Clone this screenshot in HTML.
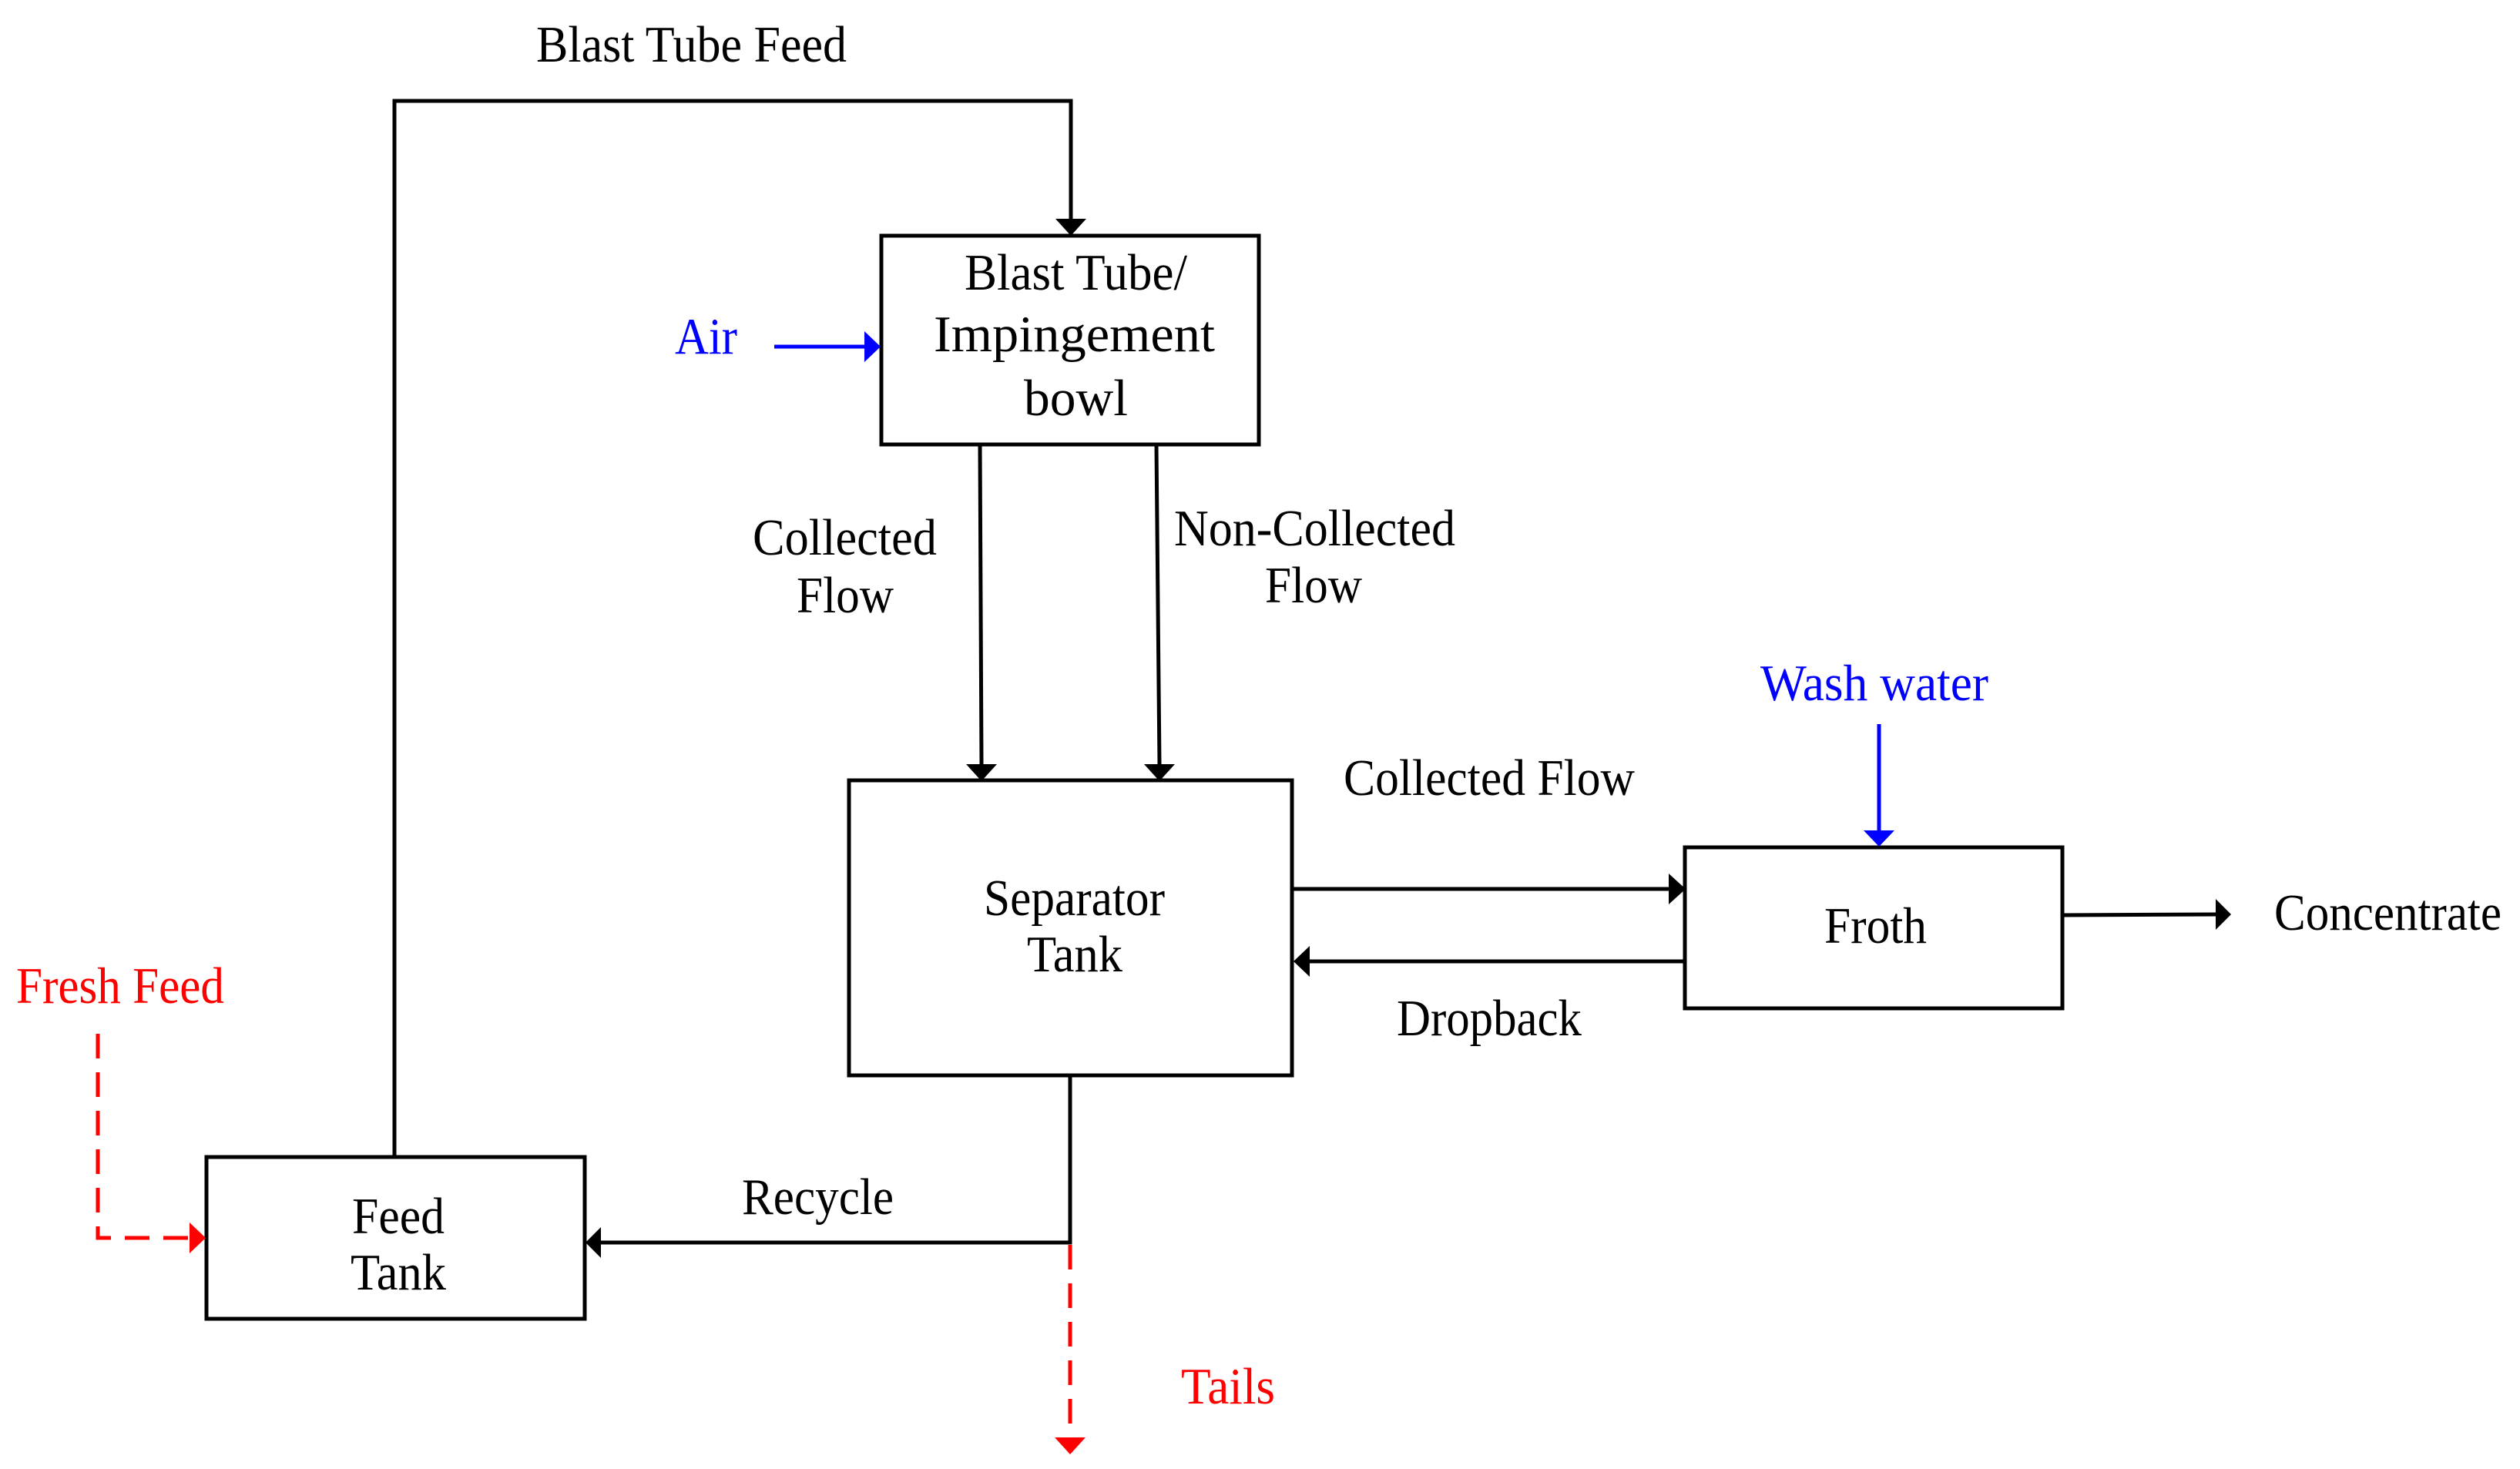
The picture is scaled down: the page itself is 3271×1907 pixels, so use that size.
<!DOCTYPE html>
<html><head><meta charset="utf-8"><style>html,body{margin:0;padding:0;background:#fff}svg{display:block}</style></head>
<body>
<svg width="3271" height="1907" viewBox="0 0 3271 1907" xmlns="http://www.w3.org/2000/svg" font-family="'Liberation Serif', serif" font-size="67">
<g fill="none" stroke="#000" stroke-width="5">
<rect x="1144" y="306" width="490" height="271"/>
<rect x="1102" y="1013" width="575" height="383"/>
<rect x="2187" y="1100" width="490" height="209"/>
<rect x="268" y="1502" width="491" height="210"/>
<polyline points="512,1502 512,131 1390,131 1390,284"/>
<line x1="1272" y1="577" x2="1274" y2="992"/>
<line x1="1501" y1="577" x2="1505" y2="992"/>
<line x1="1677" y1="1154" x2="2166" y2="1154"/>
<line x1="2187" y1="1248" x2="1698" y2="1248"/>
<line x1="2677" y1="1188" x2="2878" y2="1187"/>
<polyline points="1389,1396 1389,1613 780,1613"/>
</g>
<g fill="#000">
<polygon points="1370,284 1410,284 1390,306"/>
<polygon points="1254,992 1294,992 1274,1014"/>
<polygon points="1485,992 1525,992 1505,1014"/>
<polygon points="2166,1134 2166,1174 2188,1154"/>
<polygon points="1700,1228 1700,1268 1679,1248"/>
<polygon points="2876,1167 2876,1207 2896,1187"/>
<polygon points="780,1593 780,1633 760,1613"/>
</g>
<line x1="1005" y1="450" x2="1124" y2="450" stroke="#0000ff" stroke-width="5"/>
<polygon points="1122,430 1122,470 1143,450" fill="#0000ff"/>
<line x1="2439" y1="940" x2="2439" y2="1078" stroke="#0000ff" stroke-width="5"/>
<polygon points="2419,1078 2459,1078 2439,1099" fill="#0000ff"/>
<polyline points="127,1342 127,1607 246,1607" fill="none" stroke="#ff0000" stroke-width="5" stroke-dasharray="32 18"/>
<polygon points="246,1587 246,1627 267,1607" fill="#ff0000"/>
<line x1="1389" y1="1616" x2="1389" y2="1866" stroke="#ff0000" stroke-width="5" stroke-dasharray="32 18"/>
<polygon points="1369,1866 1409,1866 1389,1888" fill="#ff0000"/>
<g fill="#000">
<text x="696" y="80" textLength="403" lengthAdjust="spacingAndGlyphs">Blast Tube Feed</text>
<text x="1252" y="376" textLength="289" lengthAdjust="spacingAndGlyphs">Blast Tube/</text>
<text x="1212" y="456" textLength="365" lengthAdjust="spacingAndGlyphs">Impingement</text>
<text x="1329" y="539" textLength="135" lengthAdjust="spacingAndGlyphs">bowl</text>
<text x="977" y="720" textLength="239" lengthAdjust="spacingAndGlyphs">Collected</text>
<text x="1034" y="795" textLength="126" lengthAdjust="spacingAndGlyphs">Flow</text>
<text x="1524" y="708" textLength="365" lengthAdjust="spacingAndGlyphs">Non-Collected</text>
<text x="1642" y="782" textLength="126" lengthAdjust="spacingAndGlyphs">Flow</text>
<text x="1277" y="1188" textLength="235" lengthAdjust="spacingAndGlyphs">Separator</text>
<text x="1333" y="1261" textLength="124" lengthAdjust="spacingAndGlyphs">Tank</text>
<text x="1744" y="1032" textLength="378" lengthAdjust="spacingAndGlyphs">Collected Flow</text>
<text x="1813" y="1344" textLength="240" lengthAdjust="spacingAndGlyphs">Dropback</text>
<text x="2368" y="1224" textLength="133" lengthAdjust="spacingAndGlyphs">Froth</text>
<text x="2952" y="1207" textLength="295" lengthAdjust="spacingAndGlyphs">Concentrate</text>
<text x="457" y="1601" textLength="120" lengthAdjust="spacingAndGlyphs">Feed</text>
<text x="455" y="1674" textLength="124" lengthAdjust="spacingAndGlyphs">Tank</text>
<text x="963" y="1576" textLength="197" lengthAdjust="spacingAndGlyphs">Recycle</text>
</g>
<g fill="#0000ff">
<text x="876" y="459" textLength="81" lengthAdjust="spacingAndGlyphs">Air</text>
<text x="2285" y="909" textLength="296" lengthAdjust="spacingAndGlyphs">Wash water</text>
</g>
<g fill="#ff0000">
<text x="21" y="1302" textLength="270" lengthAdjust="spacingAndGlyphs">Fresh Feed</text>
<text x="1533" y="1822" textLength="122" lengthAdjust="spacingAndGlyphs">Tails</text>
</g>
</svg>
</body></html>
